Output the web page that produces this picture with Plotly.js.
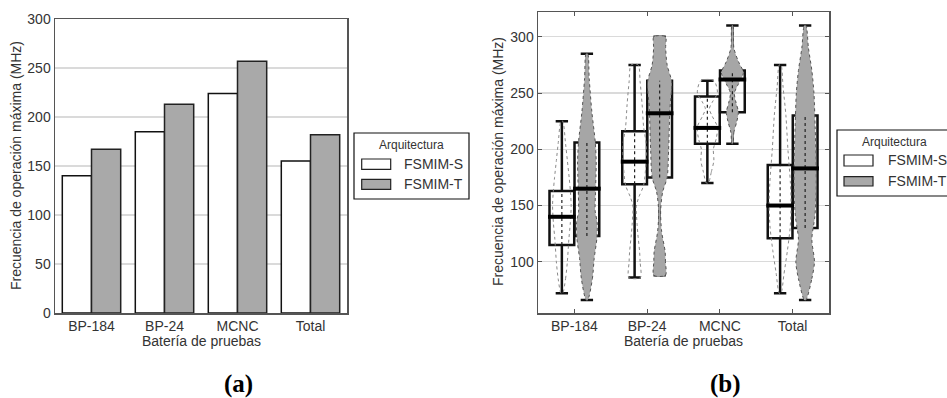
<!DOCTYPE html>
<html><head><meta charset="utf-8">
<script src="https://cdn.plot.ly/plotly-3.0.1.min.js"></script>
<style>html,body{margin:0;padding:0;background:#fff}#chart{width:947px;height:398px}</style>
</head><body><div id="chart"></div>
<script>
// ---------- data ----------
const categories = ['BP-184', 'BP-24', 'MCNC', 'Total'];
const seriesNames = ['FSMIM-S', 'FSMIM-T'];
const legendTitle = 'Arquitectura';
const xTitle = 'Batería de pruebas';
const yTitle = 'Frecuencia de operación máxima (MHz)';

// (a) bar values (MHz)
const barS = [140, 185, 224, 155];
const barT = [167, 213, 257, 182];

// (b) box statistics (MHz)
const sLower  = [72, 86, 170, 72];
const sQ1     = [115, 169, 205, 121];
const sMedian = [140, 189, 219, 150];
const sQ3     = [163, 216, 247, 186];
const sUpper  = [225, 275, 261, 275];

const tLower  = [66, 88, 205, 66];
const tQ1     = [123, 175, 233, 130];
const tMedian = [165, 232, 262, 183];
const tQ3     = [206, 261, 270, 230];
const tUpper  = [285, 300, 310, 310];

// (b) violin outlines: levels (MHz) and relative density (half width)
const sViolinY = [
  [72, 85, 100, 120, 135, 150, 163, 175, 190, 205, 225],
  [86, 100, 109, 124, 133, 149, 157, 168, 190, 205, 220, 240, 260, 275],
  [170, 180, 190, 200, 210, 220, 230, 236, 242, 250, 261],
  [72, 90, 110, 130, 150, 170, 200, 230, 255, 275]
];
const sViolinD = [
  [0.8, 3.7, 5.5, 7, 8.5, 9.3, 8.5, 7.3, 5.5, 3.7, 0.8],
  [5.7, 5.5, 5, 3.3, 2.5, 1.7, 4, 9, 11.5, 11.5, 9, 7.5, 5.5, 3.5],
  [1, 4, 6.5, 6, 9, 10, 4.5, 2, 5, 10, 6.5],
  [0.8, 4, 7.3, 10, 11, 10.3, 7.8, 5.8, 3, 0.8]
];
const tViolinY = [
  [66, 85, 103, 121, 135, 145, 159, 175, 189, 207, 233, 263, 285],
  [88, 100, 109, 127, 145, 162, 175, 200, 236, 260, 275, 290, 300],
  [205, 215, 225, 233, 242, 250, 258, 268, 278, 290, 310],
  [66, 85, 100, 120, 140, 160, 190, 220, 250, 270, 290, 310]
];
const tViolinD = [
  [0.8, 5.5, 7.3, 10, 10.3, 8.3, 8.5, 9, 9.3, 8.3, 5, 2.3, 0.8],
  [5.8, 5.8, 5.5, 2, 1, 3, 7.5, 9, 10.3, 12, 7.5, 6, 5.8],
  [0.5, 1.5, 4.5, 6, 3.5, 2, 6, 11, 6, 1.5, 0.5],
  [0.8, 6.7, 9.3, 6.7, 9.7, 11, 11, 10, 8.8, 6.7, 3.3, 0.8]
];

// ---------- helpers ----------
const W = 947, H = 398;
const px = v => v / W;
const py = v => 1 - v / H;
const densScale = 1 / 72.75;   // density units -> category units
const off = 0.172;             // box offset from category centre
const boxW = 0.34;

const traces = [];

// (a) bars
traces.push({
  type: 'bar', x: categories, y: barS, name: seriesNames[0],
  marker: {color: '#ffffff', line: {color: '#111', width: 1.5}},
  xaxis: 'x', yaxis: 'y', hoverinfo: 'y'
});
traces.push({
  type: 'bar', x: categories, y: barT, name: seriesNames[1],
  marker: {color: '#a9a9a9', line: {color: '#222', width: 1.5}},
  xaxis: 'x', yaxis: 'y', hoverinfo: 'y'
});

// (b) violins
function violin(c, ys, ds, fill, lineColor) {
  const xs = [], yy = [];
  for (let i = 0; i < ys.length; i++) { xs.push(c + ds[i] * densScale); yy.push(ys[i]); }
  for (let i = ys.length - 1; i >= 0; i--) { xs.push(c - ds[i] * densScale); yy.push(ys[i]); }
  xs.push(xs[0]); yy.push(yy[0]);
  return {
    type: 'scatter', mode: 'lines', x: xs, y: yy, xaxis: 'x2', yaxis: 'y2',
    fill: 'toself', fillcolor: fill,
    line: {color: lineColor, width: 1, dash: 'dot', shape: 'spline', smoothing: 0.8},
    hoverinfo: 'skip', showlegend: false
  };
}
categories.forEach((_, i) => {
  traces.push(violin(i - off, sViolinY[i], sViolinD[i], 'rgba(255,255,255,0)', '#8a8a8a'));
  traces.push(violin(i + off, tViolinY[i], tViolinD[i], '#a6a6a6', '#555'));
});

// dotted centre lines inside boxes
function centreLines(sign, q1, q3) {
  const xs = [], ys = [];
  categories.forEach((_, i) => { xs.push(i + sign * off, i + sign * off, null); ys.push(q1[i], q3[i], null); });
  return {type: 'scatter', mode: 'lines', x: xs, y: ys, xaxis: 'x2', yaxis: 'y2',
    line: {color: '#222', width: 1.2, dash: 'dot'}, hoverinfo: 'skip', showlegend: false};
}
traces.push(centreLines(-1, sQ1, sQ3));
traces.push(centreLines(1, tQ1, tQ3));

// boxes
function boxTrace(sign, lo, q1, med, q3, up, name) {
  return {
    type: 'box', name: name, xaxis: 'x2', yaxis: 'y2',
    x: categories.map((_, i) => i + sign * off),
    lowerfence: lo, q1: q1, median: med, q3: q3, upperfence: up,
    width: boxW, whiskerwidth: 0.5, boxpoints: false,
    fillcolor: 'rgba(0,0,0,0)', line: {color: '#111', width: 2.5},
    showlegend: false
  };
}
traces.push(boxTrace(-1, sLower, sQ1, sMedian, sQ3, sUpper, seriesNames[0]));
traces.push(boxTrace(1, tLower, tQ1, tMedian, tQ3, tUpper, seriesNames[1]));

// thick medians
function medianLines(sign, med) {
  const xs = [], ys = [];
  categories.forEach((_, i) => {
    const c = i + sign * off;
    xs.push(c - boxW / 2 - 0.02, c + boxW / 2 + 0.02, null); ys.push(med[i], med[i], null);
  });
  return {type: 'scatter', mode: 'lines', x: xs, y: ys, xaxis: 'x2', yaxis: 'y2',
    line: {color: '#000', width: 4}, hoverinfo: 'skip', showlegend: false};
}
traces.push(medianLines(-1, sMedian));
traces.push(medianLines(1, tMedian));

// ---------- layout ----------
const frame = '#555';
const grid = '#dadada';
const font = 'Liberation Sans, Arial, Helvetica, sans-serif';

const shapes = [];
const annotations = [];

function legend(x0, x1, y0, y1, titleX, titleY, swX0, swX1, sw1, sw2, textX) {
  shapes.push({type: 'rect', xref: 'paper', yref: 'paper', x0: px(x0), x1: px(x1), y0: py(y0), y1: py(y1),
    line: {color: '#111', width: 1.2}, fillcolor: '#fff'});
  annotations.push({xref: 'paper', yref: 'paper', x: px(titleX), y: py(titleY), text: legendTitle,
    showarrow: false, xanchor: 'center', yanchor: 'middle', font: {size: 12, color: '#333', family: font}});
  shapes.push({type: 'rect', xref: 'paper', yref: 'paper', x0: px(swX0), x1: px(swX1), y0: py(sw1[0]), y1: py(sw1[1]),
    line: {color: '#222', width: 1.2}, fillcolor: '#fff'});
  shapes.push({type: 'rect', xref: 'paper', yref: 'paper', x0: px(swX0), x1: px(swX1), y0: py(sw2[0]), y1: py(sw2[1]),
    line: {color: '#222', width: 1.2}, fillcolor: '#a9a9a9'});
  annotations.push({xref: 'paper', yref: 'paper', x: px(textX), y: py((sw1[0] + sw1[1]) / 2), text: seriesNames[0],
    showarrow: false, xanchor: 'left', yanchor: 'middle', font: {size: 14, color: '#333', family: font}});
  annotations.push({xref: 'paper', yref: 'paper', x: px(textX), y: py((sw2[0] + sw2[1]) / 2), text: seriesNames[1],
    showarrow: false, xanchor: 'left', yanchor: 'middle', font: {size: 14, color: '#333', family: font}});
}
legend(354, 469, 133, 199, 411.7, 145, 361.7, 390.7, [159, 169.3], [179.3, 189.3], 402);
legend(837, 955, 130, 196, 894, 142, 844, 873, [155, 166], [176.7, 186], 885.5);

// axis titles
[[201, 341], [683.5, 341]].forEach(p => annotations.push({xref: 'paper', yref: 'paper', x: px(p[0]), y: py(p[1]),
  text: xTitle, showarrow: false, xanchor: 'center', yanchor: 'middle', font: {size: 14, color: '#333', family: font}}));
[[16, 166], [498, 162]].forEach(p => annotations.push({xref: 'paper', yref: 'paper', x: px(p[0]), y: py(p[1]),
  text: yTitle, textangle: -90, showarrow: false, xanchor: 'center', yanchor: 'middle', font: {size: 14, color: '#333', family: font}}));
// captions
[['(a)', 238.5], ['(b)', 725]].forEach(p => annotations.push({xref: 'paper', yref: 'paper', x: px(p[1]), y: py(384),
  text: '<b>' + p[0] + '</b>', showarrow: false, xanchor: 'center', yanchor: 'middle',
  font: {size: 25, color: '#000', family: 'Liberation Serif, DejaVu Serif, serif'}}));

const layout = {
  width: W, height: H, margin: {l: 0, r: 0, t: 0, b: 0},
  paper_bgcolor: '#fff', plot_bgcolor: '#fff', showlegend: false,
  barmode: 'group', bargap: 0.2, bargroupgap: 0, boxmode: 'overlay',
  font: {family: font, size: 14, color: '#333'},
  xaxis: {domain: [px(55), px(347)], anchor: 'y', type: 'category', range: [-0.5, 3.5],
    showline: true, mirror: true, linecolor: frame, linewidth: 1.5, ticks: '', showgrid: false,
    tickfont: {size: 14, color: '#333'}},
  yaxis: {domain: [py(313), py(19)], anchor: 'x', range: [0, 300], tickvals: [0, 50, 100, 150, 200, 250, 300],
    showline: true, mirror: true, linecolor: frame, linewidth: 1.5, ticks: '', gridcolor: grid, gridwidth: 1.3,
    zeroline: false, tickfont: {size: 14, color: '#333'}},
  xaxis2: {domain: [px(538), px(829)], anchor: 'y2', range: [-0.5, 3.5], tickvals: [0, 1, 2, 3], ticktext: categories,
    showline: true, mirror: 'ticks', linecolor: frame, linewidth: 1.5, ticks: 'inside', ticklen: 4, tickcolor: frame,
    showgrid: false, zeroline: false, tickfont: {size: 14, color: '#333'}},
  yaxis2: {domain: [py(313), py(12)], anchor: 'x2', range: [54.5, 322], tickvals: [100, 150, 200, 250, 300],
    showline: true, mirror: 'ticks', linecolor: frame, linewidth: 1.5, ticks: 'inside', ticklen: 4, tickcolor: frame,
    gridcolor: grid, gridwidth: 1.3, zeroline: false, tickfont: {size: 14, color: '#333'}},
  shapes: shapes, annotations: annotations
};

Plotly.newPlot('chart', traces, layout, {staticPlot: true, displayModeBar: false});
</script>
</body></html>
